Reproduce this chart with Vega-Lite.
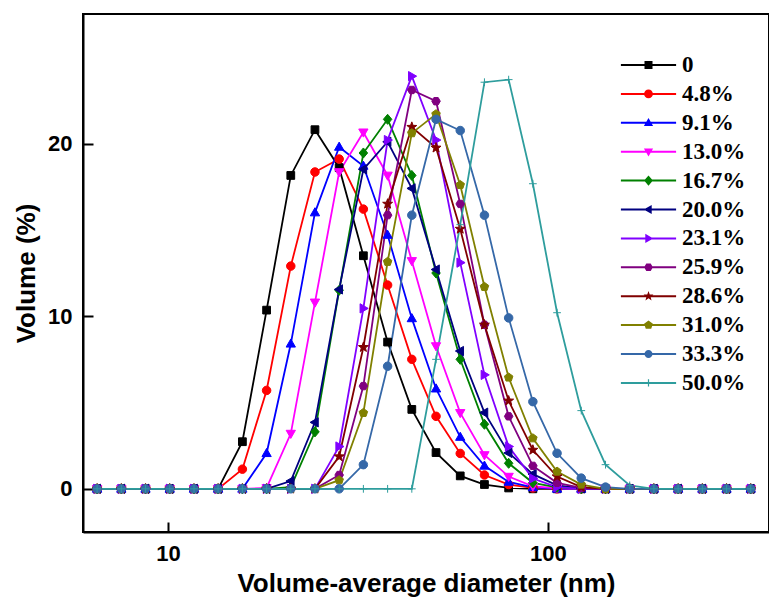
{
"$schema":"https://vega.github.io/schema/vega-lite/v6.json",
"width":686,"height":518,
"autosize":{"type":"none"},
"padding":{"left":83,"top":14,"right":0,"bottom":66},
"background":"white",
"config":{
 "view":{"stroke":"black","strokeWidth":2},
 "axis":{"domainColor":"black","domainWidth":2,"tickColor":"black","tickWidth":2,"tickSize":-10,"labelFont":"Liberation Sans","labelFontWeight":"bold","labelFontSize":22,"labelColor":"black","titleFont":"Liberation Sans","titleFontWeight":"bold","titleFontSize":26,"titleColor":"black","grid":false,"labelPadding":21},
 "legend":{"orient":"none","legendX":554,"legendY":39.5,"padding":0,"symbolSize":64,"symbolOpacity":1,"symbolStrokeWidth":0,"labelFont":"Liberation Serif","labelFontSize":23,"labelFontWeight":"bold","labelColor":"black","labelOffset":22,"rowPadding":4.9,"labelLimit":200}
},
"data":{"values":[
{"s":"0","d":6.503,"v":0},{"s":"0","d":7.531,"v":0},{"s":"0","d":8.721,"v":0},{"s":"0","d":10.1,"v":0},{"s":"0","d":11.7,"v":0},{"s":"0","d":13.54,"v":0},{"s":"0","d":15.69,"v":2.73},{"s":"0","d":18.17,"v":10.35},{"s":"0","d":21.04,"v":18.15},{"s":"0","d":24.36,"v":20.8},{"s":"0","d":28.21,"v":18.6},{"s":"0","d":32.67,"v":13.5},{"s":"0","d":37.84,"v":8.5},{"s":"0","d":43.82,"v":4.6},{"s":"0","d":50.75,"v":2.1},{"s":"0","d":58.77,"v":0.75},{"s":"0","d":68.06,"v":0.25},{"s":"0","d":78.82,"v":0.05},{"s":"0","d":91.28,"v":0},{"s":"0","d":105.7,"v":0},{"s":"0","d":122.4,"v":0},{"s":"0","d":141.8,"v":0},{"s":"0","d":164.2,"v":0},{"s":"0","d":190.1,"v":0},{"s":"0","d":220.2,"v":0},{"s":"0","d":255,"v":0},{"s":"0","d":295.3,"v":0},{"s":"0","d":342,"v":0},
{"s":"4.8%","d":6.503,"v":0},{"s":"4.8%","d":7.531,"v":0},{"s":"4.8%","d":8.721,"v":0},{"s":"4.8%","d":10.1,"v":0},{"s":"4.8%","d":11.7,"v":0},{"s":"4.8%","d":13.54,"v":0},{"s":"4.8%","d":15.69,"v":1.14},{"s":"4.8%","d":18.17,"v":5.7},{"s":"4.8%","d":21.04,"v":12.9},{"s":"4.8%","d":24.36,"v":18.35},{"s":"4.8%","d":28.21,"v":19.1},{"s":"4.8%","d":32.67,"v":16.2},{"s":"4.8%","d":37.84,"v":11.8},{"s":"4.8%","d":43.82,"v":7.5},{"s":"4.8%","d":50.75,"v":4.2},{"s":"4.8%","d":58.77,"v":2.05},{"s":"4.8%","d":68.06,"v":0.8},{"s":"4.8%","d":78.82,"v":0.25},{"s":"4.8%","d":91.28,"v":0.05},{"s":"4.8%","d":105.7,"v":0},{"s":"4.8%","d":122.4,"v":0},{"s":"4.8%","d":141.8,"v":0},{"s":"4.8%","d":164.2,"v":0},{"s":"4.8%","d":190.1,"v":0},{"s":"4.8%","d":220.2,"v":0},{"s":"4.8%","d":255,"v":0},{"s":"4.8%","d":295.3,"v":0},{"s":"4.8%","d":342,"v":0},
{"s":"9.1%","d":6.503,"v":0},{"s":"9.1%","d":7.531,"v":0},{"s":"9.1%","d":8.721,"v":0},{"s":"9.1%","d":10.1,"v":0},{"s":"9.1%","d":11.7,"v":0},{"s":"9.1%","d":13.54,"v":0},{"s":"9.1%","d":15.69,"v":0},{"s":"9.1%","d":18.17,"v":2.06},{"s":"9.1%","d":21.04,"v":8.4},{"s":"9.1%","d":24.36,"v":16},{"s":"9.1%","d":28.21,"v":19.8},{"s":"9.1%","d":32.67,"v":18.7},{"s":"9.1%","d":37.84,"v":14.7},{"s":"9.1%","d":43.82,"v":9.87},{"s":"9.1%","d":50.75,"v":5.8},{"s":"9.1%","d":58.77,"v":3},{"s":"9.1%","d":68.06,"v":1.33},{"s":"9.1%","d":78.82,"v":0.4},{"s":"9.1%","d":91.28,"v":0.08},{"s":"9.1%","d":105.7,"v":0},{"s":"9.1%","d":122.4,"v":0},{"s":"9.1%","d":141.8,"v":0},{"s":"9.1%","d":164.2,"v":0},{"s":"9.1%","d":190.1,"v":0},{"s":"9.1%","d":220.2,"v":0},{"s":"9.1%","d":255,"v":0},{"s":"9.1%","d":295.3,"v":0},{"s":"9.1%","d":342,"v":0},
{"s":"13.0%","d":6.503,"v":0},{"s":"13.0%","d":7.531,"v":0},{"s":"13.0%","d":8.721,"v":0},{"s":"13.0%","d":10.1,"v":0},{"s":"13.0%","d":11.7,"v":0},{"s":"13.0%","d":13.54,"v":0},{"s":"13.0%","d":15.69,"v":0},{"s":"13.0%","d":18.17,"v":0.05},{"s":"13.0%","d":21.04,"v":3.2},{"s":"13.0%","d":24.36,"v":10.8},{"s":"13.0%","d":28.21,"v":18.35},{"s":"13.0%","d":32.67,"v":20.65},{"s":"13.0%","d":37.84,"v":18.15},{"s":"13.0%","d":43.82,"v":13.2},{"s":"13.0%","d":50.75,"v":8.27},{"s":"13.0%","d":58.77,"v":4.4},{"s":"13.0%","d":68.06,"v":1.96},{"s":"13.0%","d":78.82,"v":0.71},{"s":"13.0%","d":91.28,"v":0.15},{"s":"13.0%","d":105.7,"v":0.03},{"s":"13.0%","d":122.4,"v":0},{"s":"13.0%","d":141.8,"v":0},{"s":"13.0%","d":164.2,"v":0},{"s":"13.0%","d":190.1,"v":0},{"s":"13.0%","d":220.2,"v":0},{"s":"13.0%","d":255,"v":0},{"s":"13.0%","d":295.3,"v":0},{"s":"13.0%","d":342,"v":0},
{"s":"16.7%","d":6.503,"v":0},{"s":"16.7%","d":7.531,"v":0},{"s":"16.7%","d":8.721,"v":0},{"s":"16.7%","d":10.1,"v":0},{"s":"16.7%","d":11.7,"v":0},{"s":"16.7%","d":13.54,"v":0},{"s":"16.7%","d":15.69,"v":0},{"s":"16.7%","d":18.17,"v":0},{"s":"16.7%","d":21.04,"v":0.1},{"s":"16.7%","d":24.36,"v":3.3},{"s":"16.7%","d":28.21,"v":11.5},{"s":"16.7%","d":32.67,"v":19.45},{"s":"16.7%","d":37.84,"v":21.4},{"s":"16.7%","d":43.82,"v":18.15},{"s":"16.7%","d":50.75,"v":12.5},{"s":"16.7%","d":58.77,"v":7.5},{"s":"16.7%","d":68.06,"v":3.74},{"s":"16.7%","d":78.82,"v":1.48},{"s":"16.7%","d":91.28,"v":0.35},{"s":"16.7%","d":105.7,"v":0.08},{"s":"16.7%","d":122.4,"v":0},{"s":"16.7%","d":141.8,"v":0},{"s":"16.7%","d":164.2,"v":0},{"s":"16.7%","d":190.1,"v":0},{"s":"16.7%","d":220.2,"v":0},{"s":"16.7%","d":255,"v":0},{"s":"16.7%","d":295.3,"v":0},{"s":"16.7%","d":342,"v":0},
{"s":"20.0%","d":6.503,"v":0},{"s":"20.0%","d":7.531,"v":0},{"s":"20.0%","d":8.721,"v":0},{"s":"20.0%","d":10.1,"v":0},{"s":"20.0%","d":11.7,"v":0},{"s":"20.0%","d":13.54,"v":0},{"s":"20.0%","d":15.69,"v":0},{"s":"20.0%","d":18.17,"v":0},{"s":"20.0%","d":21.04,"v":0.45},{"s":"20.0%","d":24.36,"v":3.85},{"s":"20.0%","d":28.21,"v":11.55},{"s":"20.0%","d":32.67,"v":18.5},{"s":"20.0%","d":37.84,"v":20.1},{"s":"20.0%","d":43.82,"v":17.4},{"s":"20.0%","d":50.75,"v":12.7},{"s":"20.0%","d":58.77,"v":7.98},{"s":"20.0%","d":68.06,"v":4.41},{"s":"20.0%","d":78.82,"v":2.08},{"s":"20.0%","d":91.28,"v":0.85},{"s":"20.0%","d":105.7,"v":0.2},{"s":"20.0%","d":122.4,"v":0.03},{"s":"20.0%","d":141.8,"v":0},{"s":"20.0%","d":164.2,"v":0},{"s":"20.0%","d":190.1,"v":0},{"s":"20.0%","d":220.2,"v":0},{"s":"20.0%","d":255,"v":0},{"s":"20.0%","d":295.3,"v":0},{"s":"20.0%","d":342,"v":0},
{"s":"23.1%","d":6.503,"v":0},{"s":"23.1%","d":7.531,"v":0},{"s":"23.1%","d":8.721,"v":0},{"s":"23.1%","d":10.1,"v":0},{"s":"23.1%","d":11.7,"v":0},{"s":"23.1%","d":13.54,"v":0},{"s":"23.1%","d":15.69,"v":0},{"s":"23.1%","d":18.17,"v":0},{"s":"23.1%","d":21.04,"v":0},{"s":"23.1%","d":24.36,"v":0},{"s":"23.1%","d":28.21,"v":2.45},{"s":"23.1%","d":32.67,"v":10.45},{"s":"23.1%","d":37.84,"v":20.2},{"s":"23.1%","d":43.82,"v":23.9},{"s":"23.1%","d":50.75,"v":20.2},{"s":"23.1%","d":58.77,"v":13.1},{"s":"23.1%","d":68.06,"v":6.6},{"s":"23.1%","d":78.82,"v":2.45},{"s":"23.1%","d":91.28,"v":0.6},{"s":"23.1%","d":105.7,"v":0.1},{"s":"23.1%","d":122.4,"v":0},{"s":"23.1%","d":141.8,"v":0},{"s":"23.1%","d":164.2,"v":0},{"s":"23.1%","d":190.1,"v":0},{"s":"23.1%","d":220.2,"v":0},{"s":"23.1%","d":255,"v":0},{"s":"23.1%","d":295.3,"v":0},{"s":"23.1%","d":342,"v":0},
{"s":"25.9%","d":6.503,"v":0},{"s":"25.9%","d":7.531,"v":0},{"s":"25.9%","d":8.721,"v":0},{"s":"25.9%","d":10.1,"v":0},{"s":"25.9%","d":11.7,"v":0},{"s":"25.9%","d":13.54,"v":0},{"s":"25.9%","d":15.69,"v":0},{"s":"25.9%","d":18.17,"v":0},{"s":"25.9%","d":21.04,"v":0},{"s":"25.9%","d":24.36,"v":0},{"s":"25.9%","d":28.21,"v":0.8},{"s":"25.9%","d":32.67,"v":5.95},{"s":"25.9%","d":37.84,"v":15.85},{"s":"25.9%","d":43.82,"v":23.1},{"s":"25.9%","d":50.75,"v":22.45},{"s":"25.9%","d":58.77,"v":16.5},{"s":"25.9%","d":68.06,"v":9.5},{"s":"25.9%","d":78.82,"v":4.2},{"s":"25.9%","d":91.28,"v":1.33},{"s":"25.9%","d":105.7,"v":0.35},{"s":"25.9%","d":122.4,"v":0.05},{"s":"25.9%","d":141.8,"v":0},{"s":"25.9%","d":164.2,"v":0},{"s":"25.9%","d":190.1,"v":0},{"s":"25.9%","d":220.2,"v":0},{"s":"25.9%","d":255,"v":0},{"s":"25.9%","d":295.3,"v":0},{"s":"25.9%","d":342,"v":0},
{"s":"28.6%","d":6.503,"v":0},{"s":"28.6%","d":7.531,"v":0},{"s":"28.6%","d":8.721,"v":0},{"s":"28.6%","d":10.1,"v":0},{"s":"28.6%","d":11.7,"v":0},{"s":"28.6%","d":13.54,"v":0},{"s":"28.6%","d":15.69,"v":0},{"s":"28.6%","d":18.17,"v":0},{"s":"28.6%","d":21.04,"v":0},{"s":"28.6%","d":24.36,"v":0},{"s":"28.6%","d":28.21,"v":1.87},{"s":"28.6%","d":32.67,"v":8.2},{"s":"28.6%","d":37.84,"v":16.5},{"s":"28.6%","d":43.82,"v":20.95},{"s":"28.6%","d":50.75,"v":19.75},{"s":"28.6%","d":58.77,"v":15.05},{"s":"28.6%","d":68.06,"v":9.5},{"s":"28.6%","d":78.82,"v":5.1},{"s":"28.6%","d":91.28,"v":2.25},{"s":"28.6%","d":105.7,"v":0.71},{"s":"28.6%","d":122.4,"v":0.1},{"s":"28.6%","d":141.8,"v":0},{"s":"28.6%","d":164.2,"v":0},{"s":"28.6%","d":190.1,"v":0},{"s":"28.6%","d":220.2,"v":0},{"s":"28.6%","d":255,"v":0},{"s":"28.6%","d":295.3,"v":0},{"s":"28.6%","d":342,"v":0},
{"s":"31.0%","d":6.503,"v":0},{"s":"31.0%","d":7.531,"v":0},{"s":"31.0%","d":8.721,"v":0},{"s":"31.0%","d":10.1,"v":0},{"s":"31.0%","d":11.7,"v":0},{"s":"31.0%","d":13.54,"v":0},{"s":"31.0%","d":15.69,"v":0},{"s":"31.0%","d":18.17,"v":0},{"s":"31.0%","d":21.04,"v":0},{"s":"31.0%","d":24.36,"v":0},{"s":"31.0%","d":28.21,"v":0.5},{"s":"31.0%","d":32.67,"v":4.4},{"s":"31.0%","d":37.84,"v":13.15},{"s":"31.0%","d":43.82,"v":20.6},{"s":"31.0%","d":50.75,"v":21.7},{"s":"31.0%","d":58.77,"v":17.6},{"s":"31.0%","d":68.06,"v":11.7},{"s":"31.0%","d":78.82,"v":6.45},{"s":"31.0%","d":91.28,"v":2.93},{"s":"31.0%","d":105.7,"v":1},{"s":"31.0%","d":122.4,"v":0.25},{"s":"31.0%","d":141.8,"v":0},{"s":"31.0%","d":164.2,"v":0},{"s":"31.0%","d":190.1,"v":0},{"s":"31.0%","d":220.2,"v":0},{"s":"31.0%","d":255,"v":0},{"s":"31.0%","d":295.3,"v":0},{"s":"31.0%","d":342,"v":0},
{"s":"33.3%","d":6.503,"v":0},{"s":"33.3%","d":7.531,"v":0},{"s":"33.3%","d":8.721,"v":0},{"s":"33.3%","d":10.1,"v":0},{"s":"33.3%","d":11.7,"v":0},{"s":"33.3%","d":13.54,"v":0},{"s":"33.3%","d":15.69,"v":0},{"s":"33.3%","d":18.17,"v":0},{"s":"33.3%","d":21.04,"v":0},{"s":"33.3%","d":24.36,"v":0},{"s":"33.3%","d":28.21,"v":0},{"s":"33.3%","d":32.67,"v":1.4},{"s":"33.3%","d":37.84,"v":7.1},{"s":"33.3%","d":43.82,"v":15.85},{"s":"33.3%","d":50.75,"v":21.4},{"s":"33.3%","d":58.77,"v":20.75},{"s":"33.3%","d":68.06,"v":15.85},{"s":"33.3%","d":78.82,"v":9.9},{"s":"33.3%","d":91.28,"v":5.05},{"s":"33.3%","d":105.7,"v":2.06},{"s":"33.3%","d":122.4,"v":0.62},{"s":"33.3%","d":141.8,"v":0.1},{"s":"33.3%","d":164.2,"v":0},{"s":"33.3%","d":190.1,"v":0},{"s":"33.3%","d":220.2,"v":0},{"s":"33.3%","d":255,"v":0},{"s":"33.3%","d":295.3,"v":0},{"s":"33.3%","d":342,"v":0},
{"s":"50.0%","d":6.503,"v":0},{"s":"50.0%","d":7.531,"v":0},{"s":"50.0%","d":8.721,"v":0},{"s":"50.0%","d":10.1,"v":0},{"s":"50.0%","d":11.7,"v":0},{"s":"50.0%","d":13.54,"v":0},{"s":"50.0%","d":15.69,"v":0},{"s":"50.0%","d":18.17,"v":0},{"s":"50.0%","d":21.04,"v":0},{"s":"50.0%","d":24.36,"v":0},{"s":"50.0%","d":28.21,"v":0},{"s":"50.0%","d":32.67,"v":0},{"s":"50.0%","d":37.84,"v":0},{"s":"50.0%","d":43.82,"v":0},{"s":"50.0%","d":50.75,"v":7.5},{"s":"50.0%","d":58.77,"v":15.3},{"s":"50.0%","d":68.06,"v":23.55},{"s":"50.0%","d":78.82,"v":23.7},{"s":"50.0%","d":91.28,"v":17.67},{"s":"50.0%","d":105.7,"v":10.2},{"s":"50.0%","d":122.4,"v":4.53},{"s":"50.0%","d":141.8,"v":1.4},{"s":"50.0%","d":164.2,"v":0.2},{"s":"50.0%","d":190.1,"v":0},{"s":"50.0%","d":220.2,"v":0},{"s":"50.0%","d":255,"v":0},{"s":"50.0%","d":295.3,"v":0},{"s":"50.0%","d":342,"v":0}
]},
"encoding":{
 "x":{"field":"d","type":"quantitative","scale":{"type":"log","domain":[5.97,382],"nice":false},"axis":{"values":[10,100],"format":"d","title":"Volume-average diameter (nm)","titlePadding":6}},
 "y":{"field":"v","type":"quantitative","scale":{"domain":[-2.5,27.5],"nice":false,"zero":false},"axis":{"values":[0,10,20],"title":"Volume (%)","titlePadding":8}},
 "color":{"field":"s","type":"nominal",
  "scale":{"domain":["0","4.8%","9.1%","13.0%","16.7%","20.0%","23.1%","25.9%","28.6%","31.0%","33.3%","50.0%"],
   "range":["#000000","#FF0000","#0000FF","#FF00FF","#008000","#000080","#8000FF","#800080","#800000","#808000","#3568A8","#2E9D9D"]},
  "legend":null}
},
"resolve":{"scale":{"color":"independent","shape":"independent","stroke":"independent"}},
"layer":[
 {"mark":{"type":"line","strokeWidth":1.8}},
 {"mark":{"type":"point","filled":true,"opacity":1,"size":60,"strokeWidth":1},
  "encoding":{
   "shape":{"field":"s","type":"nominal","legend":null,
    "scale":{"domain":["0","4.8%","9.1%","13.0%","16.7%","20.0%","23.1%","25.9%","28.6%","31.0%","33.3%","50.0%"],
     "range":["M-1,-1H1V1H-1Z","M-1.1,0A1.1,1.1,0,1,0,1.1,0A1.1,1.1,0,1,0,-1.1,0Z","M0,-1.25L1.2,0.85H-1.2Z","M0,1.25L1.2,-0.85H-1.2Z","M0,-1.3L1.1,0L0,1.3L-1.1,0Z","M-1.25,0L0.85,-1.2V1.2Z","M1.25,0L-0.85,-1.2V1.2Z","M-1.1,0L-0.55,-0.95H0.55L1.1,0L0.55,0.95H-0.55Z","M0,-1.35L0.32,-0.45L1.28,-0.42L0.53,0.17L0.79,1.09L0,0.56L-0.79,1.09L-0.53,0.17L-1.28,-0.42L-0.32,-0.45Z","M0,-1.15L1.1,-0.35L0.68,0.93H-0.68L-1.1,-0.35Z","M-1.1,0A1.1,1.1,0,1,0,1.1,0A1.1,1.1,0,1,0,-1.1,0Z","M-1,0H1M0,-1V1"]}},
   "stroke":{"field":"s","type":"nominal","legend":null,
    "scale":{"domain":["0","4.8%","9.1%","13.0%","16.7%","20.0%","23.1%","25.9%","28.6%","31.0%","33.3%","50.0%"],
     "range":["#000000","#FF0000","#0000FF","#FF00FF","#008000","#000080","#8000FF","#800080","#800000","#808000","#3568A8","#2E9D9D"]}}
  }},
 {"mark":{"type":"point","filled":true,"opacity":0,"size":64},
  "encoding":{
   "color":{"field":"s","type":"nominal",
    "scale":{"domain":["0","4.8%","9.1%","13.0%","16.7%","20.0%","23.1%","25.9%","28.6%","31.0%","33.3%","50.0%"],
     "range":["#000000","#FF0000","#0000FF","#FF00FF","#008000","#000080","#8000FF","#800080","#800000","#808000","#3568A8","#2E9D9D"]},
    "legend":{"title":null}},
   "shape":{"field":"s","type":"nominal",
    "scale":{"domain":["0","4.8%","9.1%","13.0%","16.7%","20.0%","23.1%","25.9%","28.6%","31.0%","33.3%","50.0%"],
     "range":["M-6.9,-0.25H6.9V0.25H-6.9ZM-1,-1H1V1H-1Z","M-6.9,-0.25H6.9V0.25H-6.9ZM-1.1,0A1.1,1.1,0,1,1,1.1,0A1.1,1.1,0,1,1,-1.1,0Z","M-6.9,-0.25H6.9V0.25H-6.9ZM0,-1.2L1.15,0.8H-1.15Z","M-6.9,-0.25H6.9V0.25H-6.9ZM0,1.2L-1.15,-0.8H1.15Z","M-6.9,-0.25H6.9V0.25H-6.9ZM0,-1.3L1.1,0L0,1.3L-1.1,0Z","M-6.9,-0.25H6.9V0.25H-6.9ZM-1.2,0L0.8,-1.15V1.15Z","M-6.9,-0.25H6.9V0.25H-6.9ZM1.2,0L-0.8,1.15V-1.15Z","M-6.9,-0.25H6.9V0.25H-6.9ZM-1.1,0L-0.55,-0.95H0.55L1.1,0L0.55,0.95H-0.55Z","M-6.9,-0.25H6.9V0.25H-6.9ZM0,-1.3L0.31,-0.43L1.24,-0.4L0.52,0.16L0.76,1.05L0,0.54L-0.76,1.05L-0.52,0.16L-1.24,-0.4L-0.31,-0.43Z","M-6.9,-0.25H6.9V0.25H-6.9ZM0,-1.15L1.1,-0.35L0.68,0.93H-0.68L-1.1,-0.35Z","M-6.9,-0.25H6.9V0.25H-6.9ZM-1,0A1,1,0,1,1,1,0A1,1,0,1,1,-1,0Z","M-6.9,-0.25H6.9V0.25H-6.9ZM-0.15,-0.9H0.15V0.9H-0.15Z"]},
    "legend":{"title":null}}
  }}
]
}
